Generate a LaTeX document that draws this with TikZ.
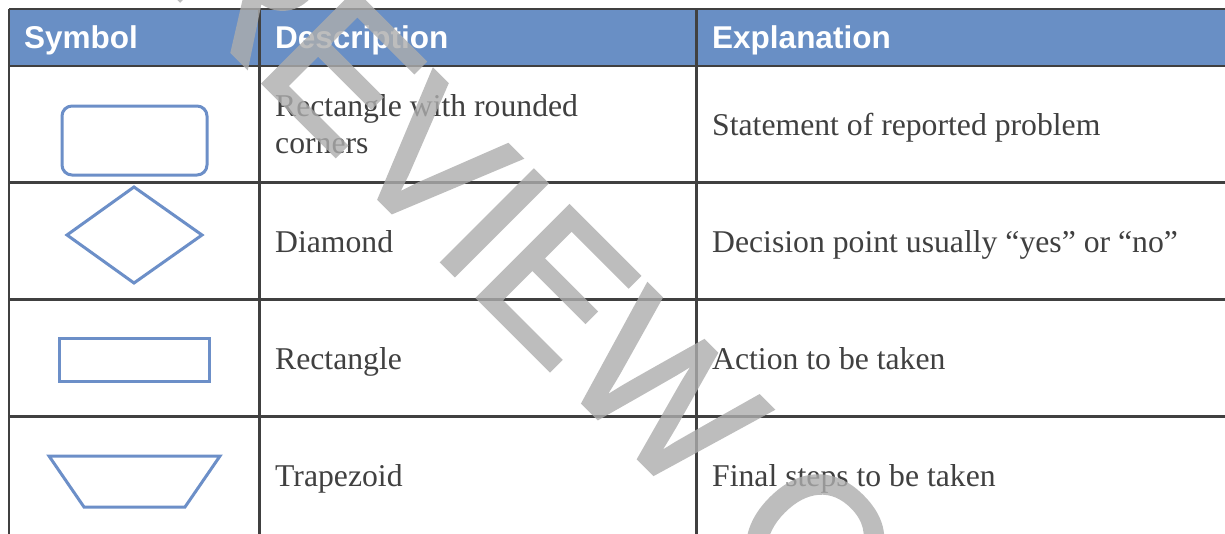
\documentclass[tikz,border=0pt]{standalone}
\usepackage{fontspec}
\setmainfont{Liberation Serif}
\setsansfont{Liberation Sans}
\newfontfamily\wmfont[FakeBold=2]{Liberation Sans}
\definecolor{hdr}{RGB}{105,143,197}
\definecolor{shp}{RGB}{108,143,200}
\definecolor{grid}{RGB}{64,64,64}
\definecolor{txt}{RGB}{64,64,64}
\definecolor{wm}{RGB}{173,173,173}
\begin{document}
\begin{tikzpicture}[x=1pt,y=-1pt,
  hdrtext/.style={anchor=base west,inner sep=0pt,text=white,font=\sffamily\bfseries\fontsize{31.5}{36}\selectfont},
  celltext/.style={anchor=base west,inner sep=0pt,text=txt,font=\fontsize{31.7}{37}\selectfont},
  gridline/.style={draw=grid,line width=2.2pt},
  symbolshape/.style={draw=shp,line width=3pt,line join=miter},
  wmtext/.style={anchor=base west,inner sep=0pt,rotate=-45,text=wm,font=\wmfont\fontsize{188}{188}\selectfont}]
\useasboundingbox (0,0) rectangle (1225,533);
\clip (0,0) rectangle (1225,533);
\fill[white] (0,0) rectangle (1225,533);
% header band
\fill[hdr] (9,9) rectangle (1225,66);
% grid lines
\draw[gridline] (9,9) -- (1225,9);
\draw[gridline] (9,66) -- (1225,66);
\draw[gridline] (9,182.5) -- (1225,182.5);
\draw[gridline] (9,299.5) -- (1225,299.5);
\draw[gridline] (9,416.5) -- (1225,416.5);
\draw[gridline] (9,9) -- (9,540);
\draw[gridline] (259.5,9) -- (259.5,540);
\draw[gridline] (696.5,9) -- (696.5,540);
% header texts
\node[hdrtext] (h1) at (24,48.5) {Symbol};
\node[hdrtext] (h2) at (275,48.5) {Description};
\node[hdrtext] (h3) at (712,48.5) {Explanation};
% symbols
\draw[symbolshape,rounded corners=10pt] (62,106) rectangle (207,175);
\draw[symbolshape] (134,187) -- (202,235) -- (134,283) -- (67,235) -- cycle;
\draw[symbolshape] (59.5,338.5) rectangle (209.5,381.5);
\draw[symbolshape] (49,456) -- (220,456) -- (185,507) -- (84,507) -- cycle;
% description column
\node[celltext] (d1a) at (275,116) {Rectangle with rounded};
\node[celltext] (d1b) at (275,153) {corners};
\node[celltext] (d2) at (275,252) {Diamond};
\node[celltext] (d3) at (275,369) {Rectangle};
\node[celltext] (d4) at (275,486) {Trapezoid};
% explanation column
\node[celltext] (e1) at (712,135) {Statement of reported problem};
\node[celltext] (e2) at (712,252) {Decision point usually “yes” or “no”};
\node[celltext] (e3) at (712,369) {Action to be taken};
\node[celltext] (e4) at (712,486) {Final steps to be taken};
% watermark
\begin{scope}[transparency group,opacity=0.8]
\node[wmtext] (wmk) at (68,-112) {PREVIEW COPY};
\end{scope}
\end{tikzpicture}
\end{document}
